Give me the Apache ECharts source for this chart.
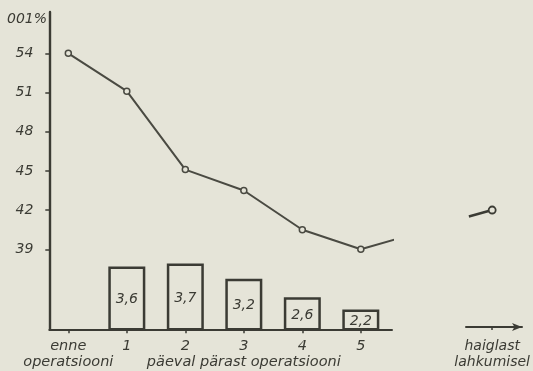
<!DOCTYPE html>
<html>
<head>
<meta charset="utf-8">
<script src="https://cdn.jsdelivr.net/npm/echarts@6/dist/echarts.min.js"></script>
<style>
html,body{margin:0;padding:0;background:#e5e4d8;}
#c{width:533px;height:371px;}
</style>
</head>
<body>
<div id="c"></div>
<script>
// ---- data ----
const categoryLabels = ['enne\noperatsiooni', '1', '2', '3\npäeval pärast operatsiooni', '4', '5'];
const categoryPos = [0, 1, 2, 3, 4, 5];
const lineValues = [54.0, 51.1, 45.1, 43.5, 40.5, 39.0];
const lineTail = [5.62, 39.8];          // line continues past day 5 (axis break)
const barDays = [1, 2, 3, 4, 5];
const barValues = [3.6, 3.7, 3.2, 2.6, 2.2];
const yTicks = [39, 42, 45, 48, 51, 54];
const dischargeLabel = 'haiglast\nlahkumisel';
const dischargeLead = [-0.89, 41.5];
const dischargeValue = 42.0;
const yName = '001%';

const ink = '#3b3b34';
const font = 'DejaVu Sans';
const labelStyle = {fontFamily: font, fontStyle: 'italic', fontSize: 14.5, color: ink};

const chart = echarts.init(document.getElementById('c'), null, {renderer: 'canvas'});
chart.setOption({
  backgroundColor: '#e5e4d8',
  animation: false,
  graphic: [{
    type: 'text', left: 7, top: 12,
    style: {text: yName, font: 'italic 14px "DejaVu Sans"', fill: ink}
  }],
  grid: [
    {left: 49.3, top: 12, right: 141, bottom: 41.7},
    {left: 466, top: 12, width: 67, bottom: 44}
  ],
  xAxis: [{
    type: 'value', gridIndex: 0, min: -0.325, max: 5.533,
    splitLine: {show: false},
    axisLine: {show: true, onZero: false, lineStyle: {color: ink, width: 2}},
    axisTick: {show: true, customValues: categoryPos, length: 4, lineStyle: {color: ink, width: 1.5}},
    axisLabel: Object.assign({
      customValues: categoryPos, margin: 9, lineHeight: 16,
      formatter: v => categoryLabels[categoryPos.indexOf(Math.round(v))]
    }, labelStyle)
  }, {
    type: 'value', gridIndex: 1, min: -1, max: 1.14,
    splitLine: {show: false},
    axisLine: {show: true, onZero: false, symbol: ['none', 'arrow'], symbolSize: [6, 10], lineStyle: {color: ink, width: 2}},
    axisTick: {show: true, customValues: [0], length: 3, lineStyle: {color: ink, width: 1.5}},
    axisLabel: Object.assign({
      customValues: [0], margin: 11, lineHeight: 16,
      formatter: () => dischargeLabel
    }, labelStyle, {fontSize: 14})
  }],
  yAxis: [{
    type: 'value', gridIndex: 0, min: 32.88, max: 57.16,
    splitLine: {show: false},
    axisLine: {show: true, onZero: false, lineStyle: {color: ink, width: 2.4}},
    axisTick: {show: true, customValues: yTicks, length: 4, lineStyle: {color: ink, width: 1.5}},
    axisLabel: Object.assign({customValues: yTicks, margin: 16}, labelStyle, {fontSize: 14})
  }, {
    type: 'value', gridIndex: 0, min: 1.56, max: 11.86, show: false,
    splitLine: {show: false}
  }, {
    type: 'value', gridIndex: 1, min: 33.05, max: 57.15, show: false,
    splitLine: {show: false}
  }],
  series: [{
    type: 'bar', xAxisIndex: 0, yAxisIndex: 1,
    data: barDays.map((d, i) => [d, barValues[i]]),
    barWidth: 37,
    itemStyle: {color: 'rgba(0,0,0,0)', borderColor: ink, borderWidth: 2.5},
    label: Object.assign({
      show: true, position: 'inside', offset: [0, 1],
      formatter: p => String(p.value[1]).replace('.', ',')
    }, labelStyle, {fontSize: 14}),
    z: 2
  }, {
    type: 'line', xAxisIndex: 0, yAxisIndex: 0,
    data: categoryPos.map((x, i) => [x, lineValues[i]]).concat([{value: lineTail, symbol: 'none'}]),
    clip: false,
    symbol: 'circle', symbolSize: 6,
    lineStyle: {color: '#4a4a42', width: 2},
    itemStyle: {color: '#e5e4d8', borderColor: '#4a4a42', borderWidth: 1.5},
    z: 3
  }, {
    type: 'line', xAxisIndex: 1, yAxisIndex: 2,
    data: [{value: dischargeLead, symbol: 'none'}, [0, dischargeValue]],
    symbol: 'circle', symbolSize: 7,
    lineStyle: {color: '#3b3b34', width: 2.5},
    itemStyle: {color: '#e5e4d8', borderColor: '#3b3b34', borderWidth: 1.8},
    z: 3
  }]
});
</script>
</body>
</html>
